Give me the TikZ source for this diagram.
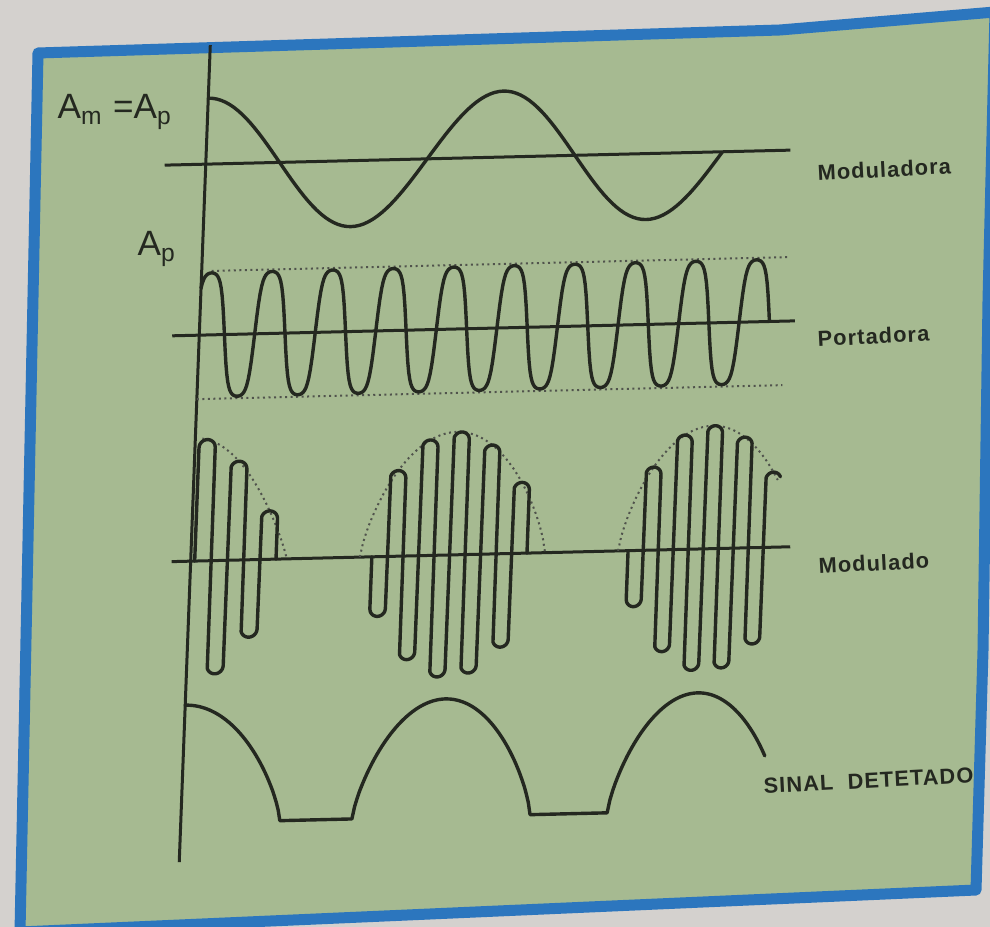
\documentclass[tikz,border=0pt]{standalone}
\usepackage{fontspec}
\setmainfont{Liberation Sans}
\definecolor{PaperGrey}{RGB}{212,209,206}
\definecolor{PlateGreen}{RGB}{166,186,145}
\definecolor{FrameBlue}{RGB}{44,118,190}
\definecolor{InkDark}{RGB}{36,40,32}

\begin{document}
\begin{tikzpicture}[x=0.1mm, y=-0.1mm,
  every node/.style={font=\fontsize{10}{12}\selectfont, text=InkDark, inner sep=0pt},
  refline/.style={InkDark, line width=0.3mm},
  wave/.style={InkDark, line width=0.34mm, line join=round, line cap=round},
  envelope/.style={InkDark!80, line width=0.2mm, densely dotted},
  sigtag/.style={font=\fontsize{6.2}{7}\selectfont\bfseries\addfontfeatures{LetterSpace=5}, anchor=west, rotate=3},
  declare function={shp(\xa,\xc,\xw,\xe)=pow(max(1-((\xa-\xc)/\xw)*((\xa-\xc)/\xw),0.0001),\xe);
                    uu(\xt)=2*(\xt-floor(\xt))-1;
                    sgn(\xt)=1-2*mod(floor(\xt),2);
                    lobeh(\xt,\xb,\xh,\xc,\xw,\xe)=123*shp(\xb+(floor(\xt)+0.5)*\xh,\xc,\xw,\xe)-\xh/2+\xh/2*sqrt(max(1-uu(\xt)*uu(\xt),0));}]
  \useasboundingbox (0,0) rectangle (990,927);
  \clip (0,0) rectangle (990,927);
  \fill[PaperGrey] (0,0) rectangle (990,927);
  \filldraw[fill=PlateGreen, draw=FrameBlue, line width=1.1mm, line join=round]
    (38,53) -- (780,30) -- (995,12) -- (988,300) -- (983,650) -- (976,890) -- (20,932) -- cycle;

  \begin{scope}[shift={(200,500)}, xslant=0.038, yslant=0.024, shift={(-200,-500)}]
    \draw[refline] (193,45) -- (193,862);
    \draw[refline] (152,164) -- (777,164);
    \draw[refline] (166,335) -- (788,335);
    \draw[refline] (174,561) -- (792,561);

    \draw[wave] plot[domain=0:516, samples=120] ({193+\x}, {164-66*cos(\x/295*360)});

    \draw[envelope] (203,271) -- (778,271);
    \draw[envelope] (193,399) -- (778,399);
    \draw[wave] plot[domain=-60:3330, samples=452] ({203+\x/360*60.5}, {335-62*tanh(1.8*cos(\x))/0.9468});

    \draw[envelope] plot[domain=200:289, samples=40] (\x, {561-123*shp(\x,193,96,0.9)});
    \draw[envelope] plot[domain=362:547, samples=70] (\x, {561-123*shp(\x,454.5,92.5,0.75)});
    \draw[envelope] plot[domain=620:777, samples=60] (\x, {561-123*shp(\x,710,90,0.75)});
    \draw[wave] (197,561) -- plot[domain=0:4.999, samples=201] ({197+16.25*\x}, {561-sgn(\x)*lobeh(\x,197,16.25,193,96,0.9)}) -- (278.25,561);
    \draw[wave] (374,561) -- plot[domain=0:9.999, samples=401] ({374+15.5*\x}, {561+sgn(\x)*lobeh(\x,374,15.5,454.5,92.5,0.75)}) -- (529,561);
    \draw[wave] (630,561) -- plot[domain=0:9.97, samples=400] ({630+15*\x}, {561+sgn(\x)*lobeh(\x,630,15,710,90,0.75)});

    \draw[wave] plot[domain=193:292, samples=50] (\x, {823-118*shp(\x,193,99,0.75)})
      -- plot[domain=364:542, samples=80] (\x, {823-118*shp(\x,453,89,0.75)})
      -- plot[domain=619:774.5, samples=70] (\x, {823-118*shp(\x,705,86,0.75)});
  \end{scope}

  \node[anchor=base west] (ampeq) at (57,119) {A\textsubscript{m} =A\textsubscript{p}};
  \node[anchor=base west] (ap) at (137,256) {A\textsubscript{p}};
  \node[sigtag] (moduladora) at (817,173) {Moduladora};
  \node[sigtag] (portadora) at (817,339) {Portadora};
  \node[sigtag] (modulado) at (818,566) {Modulado};
  \node[sigtag] (detetado) at (763,786) {SINAL\ \ DETETADO};
\end{tikzpicture}
\end{document}
